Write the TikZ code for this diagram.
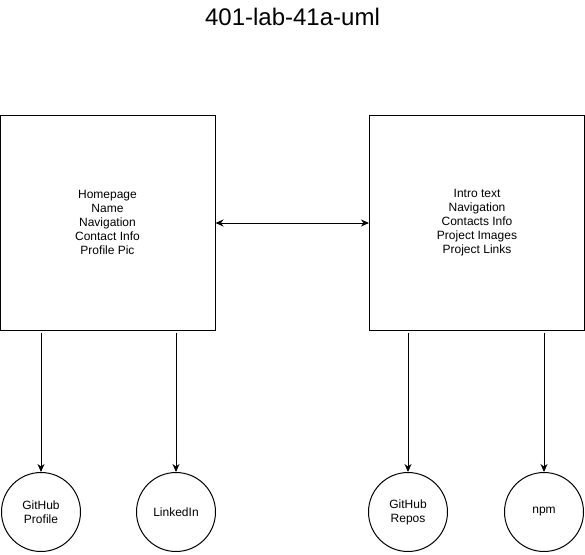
\documentclass[tikz,border=0pt]{standalone}
\usepackage{fontspec}
\setmainfont{Liberation Sans}
\usetikzlibrary{arrows.meta}
\begin{document}
\begin{tikzpicture}[x=1pt,y=-1pt,
  box/.style={draw,line width=1pt,minimum width=215pt,minimum height=215pt,inner sep=0pt,align=center,font=\fontsize{12}{14}\selectfont},
  circ/.style={draw,line width=1pt,circle,minimum size=79pt,inner sep=0pt,align=center,font=\fontsize{12}{14}\selectfont},
  arr/.style={line width=1pt,-{Stealth[length=8pt,width=7pt,inset=2.5pt]}},
  darr/.style={line width=1pt,{Stealth[length=8pt,width=7pt,inset=2.5pt]}-{Stealth[length=8pt,width=7pt,inset=2.5pt]}}]
\useasboundingbox (0,0) rectangle (585,554);
\node[font=\fontsize{24}{28}\selectfont] (title) at (292.5,17) {401-lab-41a-uml};
\node[box] (home) at (107.5,222.5) {Homepage\\Name\\Navigation\\Contact Info\\Profile Pic};
\node[box] (proj) at (477,222.5) {Intro text\\Navigation\\Contacts Info\\Project Images\\Project Links};
\node[circ] (ghp) at (41,512) {GitHub\\Profile};
\node[circ] (li) at (176,512) {LinkedIn};
\node[circ] (ghr) at (408,512) {GitHub\\Repos};
\node[circ] (npm) at (544,512) {npm};
\draw[darr] (home.east |- 0,223) -- (proj.west |- 0,223);
\draw[arr] (home.south -| ghp.north) ++(0,2) -- (ghp.north);
\draw[arr] (home.south -| li.north) ++(0,2) -- (li.north);
\draw[arr] (proj.south -| ghr.north) ++(0,2) -- (ghr.north);
\draw[arr] (proj.south -| npm.north) ++(0,2) -- (npm.north);
\end{tikzpicture}
\end{document}
